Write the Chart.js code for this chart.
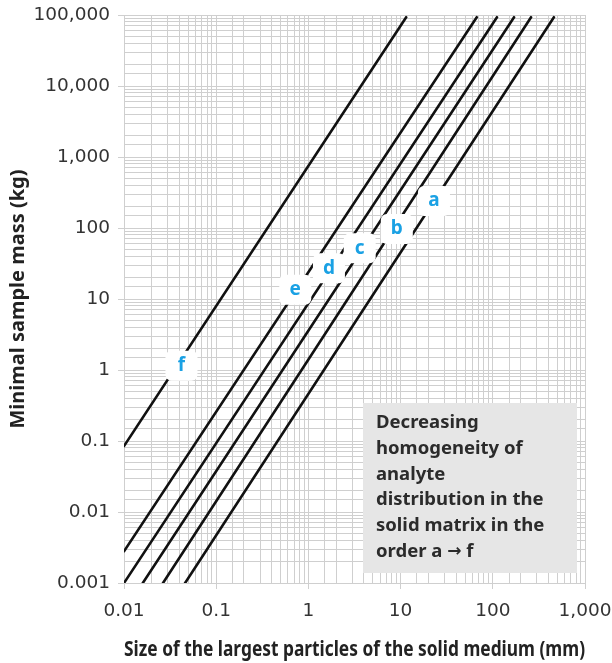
<!DOCTYPE html>
<html>
<head>
<meta charset="utf-8">
<script src="https://cdn.jsdelivr.net/npm/chart.js@4/dist/chart.umd.min.js"></script>
<style>
  html, body { margin: 0; padding: 0; background: #fff; }
  #wrap { width: 612px; height: 663px; }
</style>
</head>
<body>
<div id="wrap"><canvas id="massChart" width="612" height="663"></canvas></div>
<script>
// lines a..f (two ends of each straight line)
const seriesNames = ['a', 'b', 'c', 'd', 'e', 'f'];
const startSize = [0.046, 0.0265, 0.016, 0.01, 0.01, 0.01];
const startMass = [0.001, 0.001, 0.001, 0.001, 0.0028, 0.085];
const endSize = [460, 260, 170, 111, 67, 11.5];
const endMass = [93000, 93000, 93000, 93000, 93000, 93000];

// where the letter tags sit on each line
const labelSize = [23, 9.1, 3.6, 1.67, 0.72, 0.042];
const labelMass = [240, 97, 52, 27, 13.5, 1.15];

const noteLines = ['Decreasing', 'homogeneity of', 'analyte', 'distribution in the', 'solid matrix in the'];
const noteLast = ['order a ', '\u2192', ' f'];

const fontFamily = '"Noto Sans", "Open Sans", sans-serif';
const tickFamily = '"DejaVu Sans", "Noto Sans", sans-serif';
const gridColor = '#cfcfcf';

function isDecade(v) {
    const l = Math.log10(v);
    return Math.abs(l - Math.round(l)) < 1e-9;
}

function decadeLabel(v) {
    if (!isDecade(v)) return '';
    return Number(v).toLocaleString('en-US', { maximumFractionDigits: 3 });
}

const datasets = seriesNames.map((name, i) => ({
    label: name,
    data: [
        { x: startSize[i], y: startMass[i] },
        { x: endSize[i], y: endMass[i] }
    ],
    showLine: true,
    borderColor: '#111',
    borderWidth: 2.6,
    borderCapStyle: 'round',
    pointRadius: 0,
    fill: false
}));

const tagPlugin = {
    id: 'tags',
    afterDatasetsDraw(chart) {
        const c = chart.ctx;
        const xs = chart.scales.x;
        const ys = chart.scales.y;
        const area = chart.chartArea;

        // letter tags on the lines
        seriesNames.forEach((name, i) => {
            const px = xs.getPixelForValue(labelSize[i]);
            const py = ys.getPixelForValue(labelMass[i]);
            c.save();
            c.fillStyle = '#ffffff';
            c.beginPath();
            c.roundRect(px - 16, py - 15, 32, 30, 6);
            c.fill();
            c.fillStyle = '#1aa1e4';
            c.font = 'bold 19px ' + fontFamily;
            c.textAlign = 'center';
            c.textBaseline = 'middle';
            c.fillText(name, px, py);
            c.restore();
        });

        // grey note box, bottom right
        const boxW = 214, boxH = 170;
        const bx = area.right - 8 - boxW;
        const by = area.bottom - 10 - boxH;
        c.save();
        c.fillStyle = '#e6e6e6';
        c.fillRect(bx, by, boxW, boxH);
        c.fillStyle = '#2b2b2b';
        c.font = 'bold 18.5px ' + fontFamily;
        c.textAlign = 'left';
        c.textBaseline = 'middle';
        const tx = bx + 13;
        noteLines.forEach((t, k) => {
            c.fillText(t, tx, by + 20 + k * 25.7);
        });
        // last line with a heavier arrow glyph
        const ly = by + 20 + noteLines.length * 25.7;
        let cx = tx;
        c.fillText(noteLast[0], cx, ly);
        cx += c.measureText(noteLast[0]).width;
        c.font = 'bold 17px "DejaVu Sans", sans-serif';
        c.fillText(noteLast[1], cx, ly);
        cx += c.measureText(noteLast[1]).width;
        c.font = 'bold 18.5px ' + fontFamily;
        c.fillText(noteLast[2], cx, ly);
        c.restore();
    }
};

const ctx = document.getElementById('massChart').getContext('2d');
new Chart(ctx, {
    type: 'scatter',
    data: { datasets: datasets },
    options: {
        responsive: false,
        animation: false,
        layout: { padding: { top: 15, right: 27, left: 0, bottom: 0 } },
        plugins: {
            legend: { display: false },
            tooltip: { enabled: false }
        },
        scales: {
            x: {
                type: 'logarithmic',
                min: 0.01,
                max: 1000,
                afterFit: s => {
                    s.height = 80;
                    s.paddingLeft = 0;
                    s.paddingRight = 0;
                },
                border: { color: gridColor },
                grid: {
                    color: gridColor,
                    lineWidth: 1,
                    tickLength: 6,
                    tickColor: c => (c.tick && isDecade(c.tick.value)) ? gridColor : 'rgba(0,0,0,0)'
                },
                ticks: {
                    autoSkip: false,
                    maxRotation: 0,
                    padding: 11,
                    color: '#333',
                    font: { family: tickFamily, size: 18.5 },
                    callback: v => decadeLabel(v)
                },
                title: {
                    display: true,
                    text: 'Size of the largest particles of the solid medium (mm)',
                    color: '#222',
                    font: { family: fontFamily, size: 21, weight: 'bold' },
                    padding: { top: 0, bottom: 0 }
                }
            },
            y: {
                type: 'logarithmic',
                min: 0.001,
                max: 100000,
                afterFit: s => {
                    s.width = 124;
                    s.paddingTop = 0;
                    s.paddingBottom = 0;
                },
                border: { color: gridColor },
                grid: {
                    color: gridColor,
                    lineWidth: 1,
                    tickLength: 6,
                    tickColor: c => (c.tick && isDecade(c.tick.value)) ? gridColor : 'rgba(0,0,0,0)'
                },
                ticks: {
                    autoSkip: false,
                    padding: 8,
                    color: '#333',
                    font: { family: tickFamily, size: 18.5 },
                    callback: v => decadeLabel(v)
                },
                title: {
                    display: true,
                    text: 'Minimal sample mass (kg)',
                    color: '#222',
                    font: { family: fontFamily, size: 20, weight: 'bold' },
                    padding: { top: 6, bottom: 0 }
                }
            }
        }
    },
    plugins: [tagPlugin]
});
</script>
</body>
</html>
